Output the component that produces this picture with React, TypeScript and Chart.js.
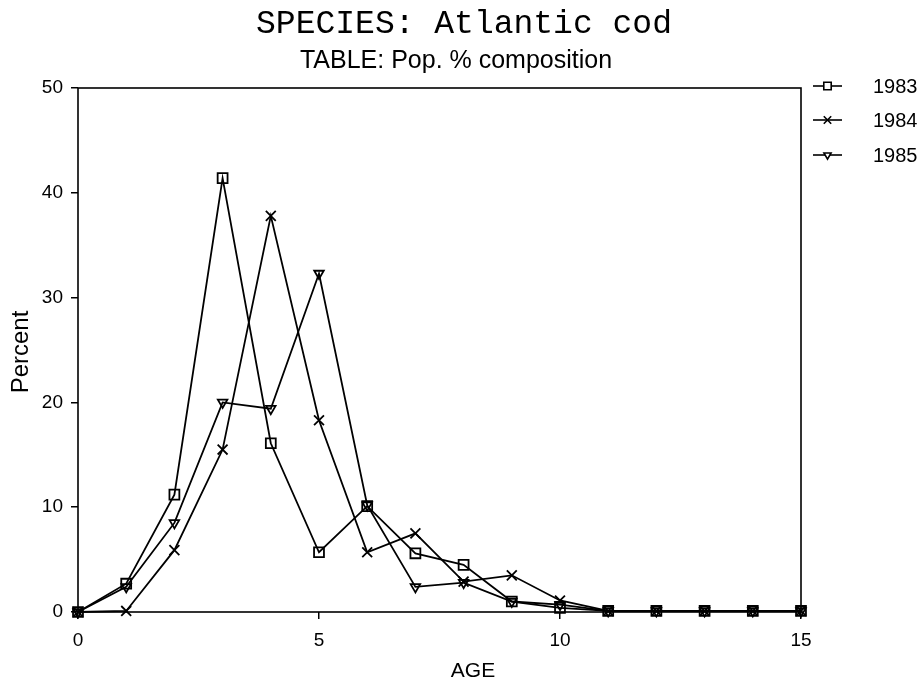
import React, { useEffect, useRef } from 'react';
import { Chart, registerables } from 'chart.js';
import { drawPoint } from 'chart.js/helpers';

Chart.register(...registerables);

const ages = [0, 1, 2, 3, 4, 5, 6, 7, 8, 9, 10, 11, 12, 13, 14, 15];
const values1983 = [0, 2.7, 11.2, 41.4, 16.1, 5.7, 10.1, 5.6, 4.5, 1.0, 0.4, 0.1, 0.1, 0.1, 0.1, 0.1];
const values1984 = [0, 0.1, 5.9, 15.5, 37.8, 18.3, 5.7, 7.5, 2.9, 3.5, 1.1, 0.1, 0.1, 0.1, 0.1, 0.1];
const values1985 = [0, 2.4, 8.5, 20.0, 19.4, 32.3, 10.2, 2.4, 2.8, 1.0, 0.7, 0.1, 0.1, 0.1, 0.1, 0.1];
const seriesLabels = ['1983', '1984', '1985'];
const xTickValues = [0, 5, 10, 15];
const yTickValues = [0, 10, 20, 30, 40, 50];
const titleText = 'SPECIES: Atlantic cod';
const subtitleText = 'TABLE: Pop. % composition';
const xAxisTitle = 'AGE';
const yAxisTitle = 'Percent';

const SANS = '"Liberation Sans", Arial, sans-serif';
const INK = '#000';

const markerStyles = [
  { pointStyle: 'rect', radius: 7, rotation: 0 },
  { pointStyle: 'crossRot', radius: 7, rotation: 0 },
  { pointStyle: 'triangle', radius: 5.5, rotation: 180 },
];

export default function App() {
  const ref = useRef<HTMLCanvasElement | null>(null);

  useEffect(() => {
    document.body.style.margin = '0';
    const canvas = ref.current;
    if (!canvas) return;
    const all = [values1983, values1984, values1985];

    const frame = {
      id: 'frame',
      afterDraw(chart: any) {
        const { ctx, chartArea } = chart;
        ctx.save();
        ctx.strokeStyle = INK;
        ctx.lineWidth = 1.6;
        ctx.strokeRect(chartArea.left, chartArea.top, chartArea.right - chartArea.left, chartArea.bottom - chartArea.top);
        // titles
        ctx.fillStyle = INK;
        ctx.textAlign = 'center';
        ctx.textBaseline = 'alphabetic';
        ctx.font = '33px "Liberation Mono", "Courier New", monospace';
        ctx.fillText(titleText, 464, 33);
        ctx.font = '25px ' + SANS;
        ctx.fillText(subtitleText, 456, 68);
        // axis titles
        ctx.font = '21px ' + SANS;
        ctx.textBaseline = 'alphabetic';
        ctx.fillText(xAxisTitle, 473, 677);
        ctx.save();
        ctx.translate(28, 352);
        ctx.rotate(-Math.PI / 2);
        ctx.font = '24px ' + SANS;
        ctx.fillText(yAxisTitle, 0, 0);
        ctx.restore();
        // legend
        const ys = [86, 120, 155];
        seriesLabels.forEach((lab, i) => {
          const y = ys[i];
          ctx.strokeStyle = INK;
          ctx.lineWidth = 1.6;
          ctx.beginPath();
          ctx.moveTo(813, y);
          ctx.lineTo(842, y);
          ctx.stroke();
          const m = markerStyles[i];
          ctx.fillStyle = '#fff';
          ctx.strokeStyle = INK;
          drawPoint(ctx, { pointStyle: m.pointStyle, radius: m.radius * 0.75, rotation: m.rotation, borderWidth: 1.6 } as any, 827.5, y);
          ctx.fillStyle = INK;
          ctx.textAlign = 'left';
          ctx.textBaseline = 'middle';
          ctx.font = '20px ' + SANS;
          ctx.fillText(lab, 873, y + 1);
        });
        ctx.restore();
      },
    };

    const chart = new Chart(canvas, {
      type: 'line',
      data: {
        datasets: all.map((vals, i) => ({
          label: seriesLabels[i],
          data: ages.map((a, j) => ({ x: a, y: vals[j] })),
          borderColor: INK,
          backgroundColor: '#fff',
          borderWidth: 1.8,
          pointStyle: markerStyles[i].pointStyle as any,
          pointRadius: markerStyles[i].radius,
          pointRotation: markerStyles[i].rotation,
          pointBorderColor: INK,
          pointBackgroundColor: 'rgba(255,255,255,0)',
          pointBorderWidth: 1.8,
          tension: 0,
          fill: false,
          clip: false as any,
        })),
      },
      options: {
        responsive: false,
        animation: false,
        layout: { padding: { top: 88, right: 122, left: 0, bottom: 0 } },
        plugins: {
          legend: { display: false },
          title: { display: false },
          tooltip: { enabled: false },
        },
        scales: {
          x: {
            type: 'linear',
            min: 0,
            max: 15,
            afterFit: (s: any) => { s.height = 69; },
            afterBuildTicks: (s: any) => { s.ticks = xTickValues.map((v) => ({ value: v })); },
            grid: { display: true, drawOnChartArea: false, drawTicks: true, tickLength: 7, color: INK, lineWidth: 1.5 },
            border: { display: false },
            ticks: { color: INK, font: { family: SANS, size: 19 }, padding: 10, maxRotation: 0 },
            title: { display: false },
          },
          y: {
            type: 'linear',
            min: 0,
            max: 50,
            afterFit: (s: any) => { s.width = 78; },
            afterBuildTicks: (s: any) => { s.ticks = yTickValues.map((v) => ({ value: v })); },
            grid: { display: true, drawOnChartArea: false, drawTicks: true, tickLength: 7, color: INK, lineWidth: 1.5 },
            border: { display: false },
            ticks: { color: INK, font: { family: SANS, size: 19 }, padding: 8 },
            title: { display: false },
          },
        },
      },
      plugins: [frame],
    } as any);

    return () => chart.destroy();
  }, []);

  return (
    <div style={{ width: 923, height: 681 }}>
      <canvas ref={ref} width={923} height={681} style={{ display: 'block', width: 923, height: 681 }} />
    </div>
  );
}
